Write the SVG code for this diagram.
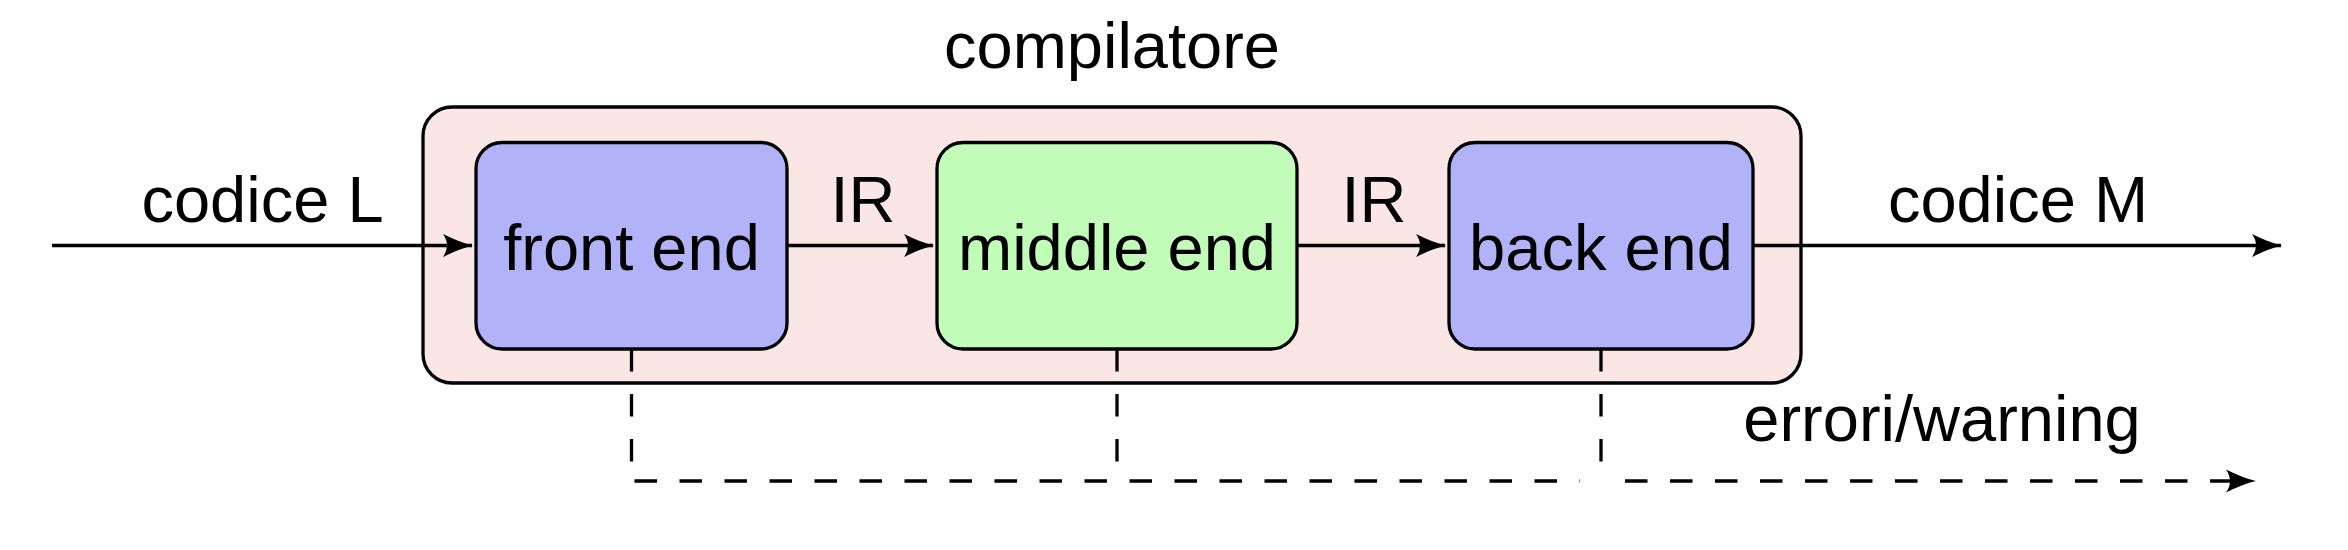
<svg xmlns="http://www.w3.org/2000/svg" width="2348" height="550" viewBox="0 0 2348 550">
  <style>
    .txt { font-family: "Liberation Sans", "DejaVu Sans", sans-serif; font-size: 65px; fill: #000; text-anchor: middle; }
    .box { stroke: #000; stroke-width: 3.3; }
    .blue { fill: #B2B2F9; }
    .green { fill: #C1FCB9; }
    .outer { fill: #FAE6E5; }
    .conn { stroke: #000; stroke-width: 3.3; fill: none; }
    .dash { stroke-dasharray: 22.5 22.5; }
  </style>
  <defs>
    <marker id="arr" markerUnits="userSpaceOnUse" markerWidth="34" markerHeight="28" viewBox="-32 -14 34 28" refX="0" refY="0" orient="auto" overflow="visible">
      <path d="M1,0 Q-12,-3 -29,-11.5 Q-21,0 -29,11.5 Q-12,3 1,0 Z" fill="#000"/>
    </marker>
  </defs>

  <g id="compilatore">
    <rect class="box outer" x="423" y="107" width="1378" height="276" rx="29" ry="29"/>
    <text class="txt" x="1112" y="68">compilatore</text>
  </g>

  <g id="front-end">
    <rect class="box blue" x="476" y="142.5" width="311" height="206.5" rx="26" ry="26"/>
    <text class="txt" x="631.5" y="270">front end</text>
  </g>

  <g id="middle-end">
    <rect class="box green" x="937" y="142.5" width="360" height="206.5" rx="26" ry="26"/>
    <text class="txt" x="1117" y="270">middle end</text>
  </g>

  <g id="back-end">
    <rect class="box blue" x="1449" y="142.5" width="304" height="206.5" rx="26" ry="26"/>
    <text class="txt" x="1601" y="270">back end</text>
  </g>

  <g id="connectors">
    <path class="conn" d="M52,245.5 H472" marker-end="url(#arr)"/>
    <path class="conn" d="M787,245.5 H933" marker-end="url(#arr)"/>
    <path class="conn" d="M1297,245.5 H1445" marker-end="url(#arr)"/>
    <path class="conn" d="M1753,245.5 H2281" marker-end="url(#arr)"/>

    <path class="conn dash" d="M631.5,349 V481 H1580"/>
    <path class="conn dash" d="M1117,349 V481"/>
    <path class="conn dash" d="M1601,349 V481"/>
    <path class="conn dash" stroke-dashoffset="22.5" d="M1602.5,481 H2255" marker-end="url(#arr)"/>
  </g>

  <g id="labels">
    <text class="txt" x="262.5" y="222">codice L</text>
    <text class="txt" x="863" y="222">IR</text>
    <text class="txt" x="1374" y="222">IR</text>
    <text class="txt" x="2018" y="222">codice M</text>
    <text class="txt" x="1942" y="441">errori/warning</text>
  </g>
</svg>
